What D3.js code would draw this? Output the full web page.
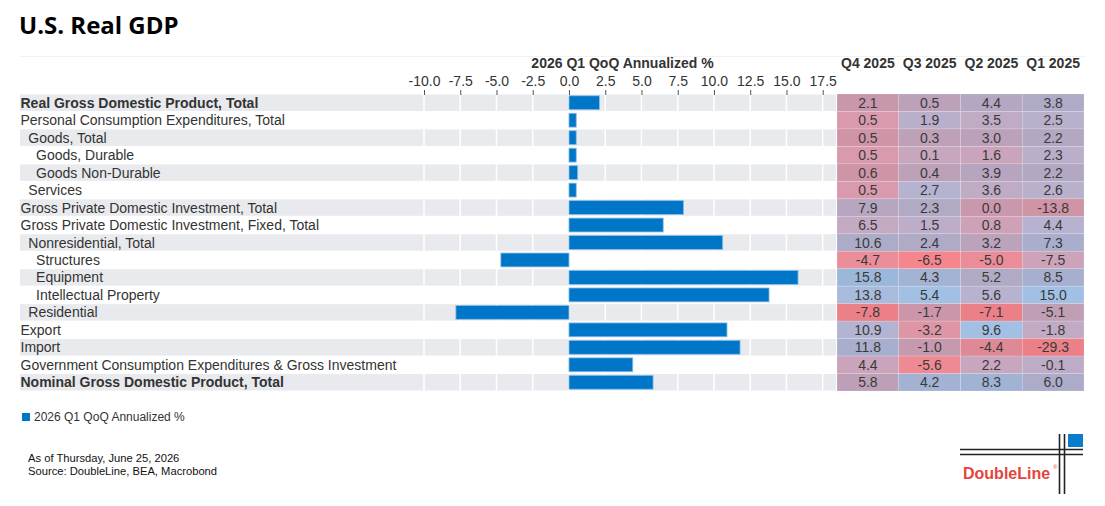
<!DOCTYPE html>
<html>
<head>
<meta charset="utf-8">
<script src="https://cdn.jsdelivr.net/npm/d3@7"></script>
<style>
	body { margin: 0; background: #fff; }
	text { font-family: Arial, "Liberation Sans", sans-serif; }
</style>
</head>
<body>
<div id="chart"></div>
<script>

//=================== DATA ====================================

var categories = [
	"Real Gross Domestic Product, Total",
	"Personal Consumption Expenditures, Total",
	"Goods, Total",
	"Goods, Durable",
	"Goods Non-Durable",
	"Services",
	"Gross Private Domestic Investment, Total",
	"Gross Private Domestic Investment, Fixed, Total",
	"Nonresidential, Total",
	"Structures",
	"Equipment",
	"Intellectual Property",
	"Residential",
	"Export",
	"Import",
	"Government Consumption Expenditures & Gross Investment",
	"Nominal Gross Domestic Product, Total"
];
var indentLevel = [0, 0, 1, 2, 2, 1, 0, 0, 1, 2, 2, 2, 1, 0, 0, 0, 0];
var boldRows = [0, 16];

var barSeriesName = "2026 Q1 QoQ Annualized %";
var barValues = [2.1, 0.5, 0.5, 0.5, 0.6, 0.5, 7.9, 6.5, 10.6, -4.7, 15.8, 13.8, -7.8, 10.9, 11.8, 4.4, 5.8];

var xTicks = [-10, -7.5, -5, -2.5, 0, 2.5, 5, 7.5, 10, 12.5, 15, 17.5];

var tableColumns = ["Q4 2025", "Q3 2025", "Q2 2025", "Q1 2025"];
var q4_2025 = [2.1, 0.5, 0.5, 0.5, 0.6, 0.5, 7.9, 6.5, 10.6, -4.7, 15.8, 13.8, -7.8, 10.9, 11.8, 4.4, 5.8];
var q3_2025 = [0.5, 1.9, 0.3, 0.1, 0.4, 2.7, 2.3, 1.5, 2.4, -6.5, 4.3, 5.4, -1.7, -3.2, -1.0, -5.6, 4.2];
var q2_2025 = [4.4, 3.5, 3.0, 1.6, 3.9, 3.6, 0.0, 0.8, 3.2, -5.0, 5.2, 5.6, -7.1, 9.6, -4.4, 2.2, 8.3];
var q1_2025 = [3.8, 2.5, 2.2, 2.3, 2.2, 2.6, -13.8, 4.4, 7.3, -7.5, 8.5, 15.0, -5.1, -1.8, -29.3, -0.1, 6.0];
var tableValues = [q4_2025, q3_2025, q2_2025, q1_2025];


//=================== LAYOUT ====================================

var width = 1105, height = 506;
var rowsTop = 94, rowsBottom = 391;
var plotLeft = 20, plotRight = 836;
var tableLeft = 837, tableRight = 1084;

var svg = d3.select("#chart").append("svg")
	.attr("width", width)
	.attr("height", height);

//number format with a plain hyphen, like the original
var fmt = function(d) { return d3.format(".1f")(d).replace("\u2212", "-"); };

//Title
svg.append("text")
	.attr("x", 19)
	.attr("y", 34)
	.style("font-family", "'Open Sans', sans-serif")
	.style("font-weight", "bold")
	.style("font-size", "24px")
	.attr("fill", "#000")
	.text("U.S. Real GDP");

//faint frame line under title
svg.append("line")
	.attr("x1", 20).attr("x2", 1086)
	.attr("y1", 56.5).attr("y2", 56.5)
	.attr("stroke", "#f2f2f2");

//Scales
var yScale = d3.scaleBand()
	.domain(d3.range(categories.length))
	.range([rowsTop, rowsBottom]);

var xScale = d3.scaleLinear()
	.domain([-10, 17.5])
	.range([424, 822.7]);

var colScale = d3.scaleBand()
	.domain(tableColumns)
	.range([tableLeft, tableRight]);


//=================== ROW BANDS AND GRID ====================================

svg.append("g").selectAll("rect.rowBand")
	.data(categories)
	.enter()
	.append("rect")
	.classed("rowBand", true)
	.attr("x", plotLeft)
	.attr("y", function(d, i) { return yScale(i) + 0.5; })
	.attr("width", plotRight - plotLeft)
	.attr("height", yScale.bandwidth() - 1)
	.attr("fill", function(d, i) { return i % 2 == 0 ? "#e8eaed" : "#ffffff"; });

//white vertical gridlines (only visible on gray rows)
svg.append("g").selectAll("line.grid")
	.data(xTicks)
	.enter()
	.append("line")
	.classed("grid", true)
	.attr("x1", function(d) { return xScale(d); })
	.attr("x2", function(d) { return xScale(d); })
	.attr("y1", rowsTop)
	.attr("y2", rowsBottom)
	.attr("stroke", "#ffffff")
	.attr("stroke-width", 1.5);

//Axis on top
var axis = svg.append("g")
	.attr("transform", "translate(0," + (rowsTop + 1) + ")")
	.call(d3.axisTop(xScale)
		.tickValues(xTicks)
		.tickFormat(fmt)
		.tickSize(5)
		.tickPadding(4));
axis.select(".domain").remove();
axis.selectAll(".tick line").attr("stroke", "#555");
axis.selectAll(".tick text")
	.attr("fill", "#333")
	.style("font-size", "14px");

//Axis title
svg.append("text")
	.attr("x", 622.5)
	.attr("y", 68)
	.attr("text-anchor", "middle")
	.attr("fill", "#333")
	.style("font-size", "14px")
	.style("font-weight", "bold")
	.text(barSeriesName);


//=================== BARS ====================================

var barPad = 1.8;
svg.append("g").selectAll("rect.bar")
	.data(barValues)
	.enter()
	.append("rect")
	.classed("bar", true)
	.attr("x", function(d) { return xScale(Math.min(0, d)); })
	.attr("y", function(d, i) { return yScale(i) + barPad; })
	.attr("width", function(d) { return Math.abs(xScale(d) - xScale(0)); })
	.attr("height", yScale.bandwidth() - 2 * barPad)
	.attr("fill", "#0076c9")
	.attr("stroke", "#8dbde6")
	.attr("stroke-width", 0.8);


//=================== CATEGORY LABELS ====================================

svg.append("g").selectAll("text.label")
	.data(categories)
	.enter()
	.append("text")
	.classed("label", true)
	.attr("x", function(d, i) { return 20.5 + indentLevel[i] * 7.8; })
	.attr("y", function(d, i) { return yScale(i) + yScale.bandwidth() / 2; })
	.attr("dy", "0.36em")
	.attr("fill", "#333")
	.style("font-size", "14px")
	.style("font-weight", function(d, i) { return boldRows.indexOf(i) >= 0 ? "bold" : "normal"; })
	.text(function(d) { return d; });


//=================== HEATMAP TABLE ====================================

var lowColor = "#f5868e", highColor = "#a2c0e4";

tableColumns.forEach(function(col, c) {
	var vals = tableValues[c];
	//each column is coloured on its own min..max range
	var colour = d3.scaleLinear()
		.domain([d3.min(vals), d3.max(vals)])
		.range([lowColor, highColor])
		.interpolate(d3.interpolateRgb);

	var g = svg.append("g");

	//header
	g.append("text")
		.attr("x", colScale(col) + colScale.bandwidth() / 2)
		.attr("y", 68)
		.attr("text-anchor", "middle")
		.attr("fill", "#333")
		.style("font-size", "14px")
		.style("font-weight", "bold")
		.text(col);

	g.selectAll("rect.cell")
		.data(vals)
		.enter()
		.append("rect")
		.classed("cell", true)
		.attr("x", colScale(col))
		.attr("y", function(d, i) { return yScale(i); })
		.attr("width", colScale.bandwidth())
		.attr("height", yScale.bandwidth())
		.attr("fill", function(d, i) {
			//gray rows show slightly darker
			var base = d3.rgb(colour(d));
			return i % 2 == 0 ? base.darker(0.12) : base;
		})
		.attr("stroke", "rgba(255,255,255,0.25)")
		.attr("stroke-width", 0.6);

	g.selectAll("text.cellText")
		.data(vals)
		.enter()
		.append("text")
		.classed("cellText", true)
		.attr("x", colScale(col) + colScale.bandwidth() / 2)
		.attr("y", function(d, i) { return yScale(i) + yScale.bandwidth() / 2; })
		.attr("dy", "0.36em")
		.attr("text-anchor", "middle")
		.attr("fill", "#3a3a3a")
		.style("font-size", "14px")
		.text(fmt);
});


//=================== LEGEND AND FOOTNOTE ====================================

svg.append("rect")
	.attr("x", 22).attr("y", 413)
	.attr("width", 8).attr("height", 8)
	.attr("fill", "#0076c9");
svg.append("text")
	.attr("x", 34).attr("y", 421)
	.attr("fill", "#333")
	.style("font-size", "12px")
	.text(barSeriesName);

svg.append("text")
	.attr("x", 28).attr("y", 462)
	.attr("fill", "#111")
	.style("font-size", "11.2px")
	.text("As of Thursday, June 25, 2026");
svg.append("text")
	.attr("x", 28).attr("y", 475)
	.attr("fill", "#111")
	.style("font-size", "11.2px")
	.text("Source: DoubleLine, BEA, Macrobond");


//=================== LOGO ====================================

var logo = svg.append("g");
[449.5, 454.5].forEach(function(y) {
	logo.append("line")
		.attr("x1", 960).attr("x2", 1083)
		.attr("y1", y).attr("y2", y)
		.attr("stroke", "#222").attr("stroke-width", 1.6);
});
[1059.5, 1064.5].forEach(function(x) {
	logo.append("line")
		.attr("x1", x).attr("x2", x)
		.attr("y1", 434).attr("y2", 494)
		.attr("stroke", "#222").attr("stroke-width", 1.6);
});
logo.append("rect")
	.attr("x", 1068).attr("y", 434)
	.attr("width", 15).attr("height", 13)
	.attr("fill", "#0a7ccc");
logo.append("text")
	.attr("x", 963).attr("y", 479)
	.attr("fill", "#e8433b")
	.style("font-size", "16px")
	.style("font-weight", "bold")
	.text("DoubleLine");
logo.append("text")
	.attr("x", 1053).attr("y", 469)
	.attr("fill", "#e8433b")
	.style("font-size", "6px")
	.text("®");

</script>
</body>
</html>
